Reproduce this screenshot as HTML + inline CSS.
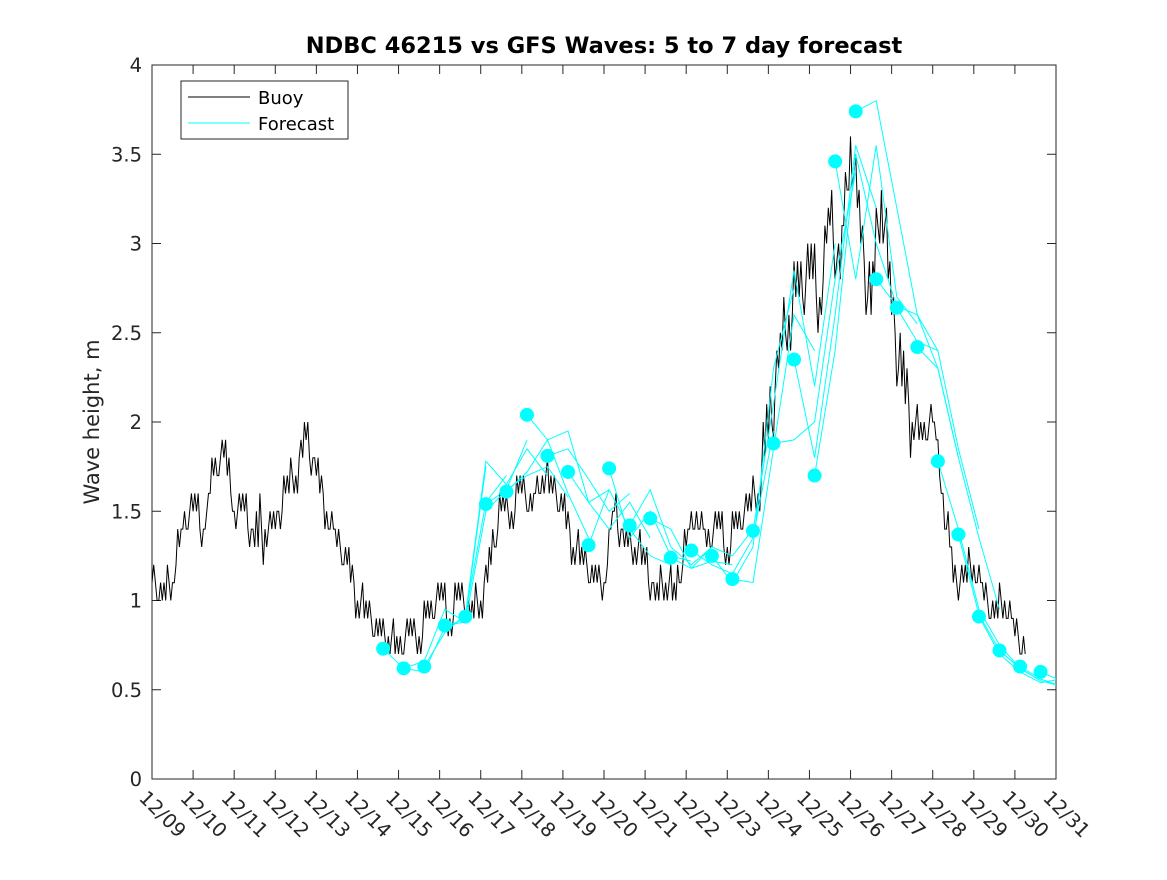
<!DOCTYPE html>
<html><head><meta charset="utf-8"><style>
body{margin:0;background:#fff;}
svg text{font-family:"DejaVu Sans","Liberation Sans",sans-serif;fill:#262626;}
</style></head><body>
<svg id="chart" width="1167" height="875" viewBox="0 0 1167 875" xmlns="http://www.w3.org/2000/svg">
<rect width="1167" height="875" fill="#fff"/>
<defs><clipPath id="pc"><rect x="152" y="65" width="904" height="714"/></clipPath></defs>
<text x="604" y="53" text-anchor="middle" font-size="22.5" font-weight="bold" style="fill:#000">NDBC 46215 vs GFS Waves: 5 to 7 day forecast</text>
<text transform="translate(99,422) rotate(-90)" text-anchor="middle" font-size="21">Wave height, m</text>
<g id="axes"></g>
<g id="buoy" clip-path="url(#pc)"></g>
<g id="fc" clip-path="url(#pc)"></g>
<g>
<rect x="181" y="81" width="167" height="58" fill="#fff" stroke="#262626" stroke-width="1"/>
<line x1="188" y1="97" x2="250" y2="97" stroke="#000" stroke-width="1"/>
<text x="258" y="104" font-size="18" style="fill:#000">Buoy</text>
<line x1="188" y1="123" x2="250" y2="123" stroke="#00ffff" stroke-width="1"/>
<text x="258" y="130" font-size="18" style="fill:#000">Forecast</text>
</g>
</svg>
<script>
const xTickLabels=["12/09","12/10","12/11","12/12","12/13","12/14","12/15","12/16","12/17","12/18","12/19","12/20","12/21","12/22","12/23","12/24","12/25","12/26","12/27","12/28","12/29","12/30","12/31"];
const yTicks=[0,0.5,1,1.5,2,2.5,3,3.5,4];
const yTickLabels=["0","0.5","1","1.5","2","2.5","3","3.5","4"];
// buoy values every 6 hours starting 12/09 00:00
const buoyValues=[1.1,1.0,1.1,1.4, 1.5,1.4,1.7,1.8, 1.5,1.5,1.3,1.4, 1.4,1.6,1.7,1.9, 1.7,1.5,1.3,1.2,
1.0,0.9,0.8,0.8, 0.7,0.8,0.8,0.9, 1.0,0.9,1.0,0.9, 1.0,1.2,1.5,1.5, 1.6,1.5,1.7,1.6, 1.5,1.3,1.2,1.1,
1.1,1.5,1.3,1.3, 1.2,1.0,1.1,1.0, 1.3,1.5,1.3,1.4, 1.3,1.4,1.5,1.6, 1.9,2.3,2.6,2.7, 2.8,2.7,3.1,2.8,
3.6,3.0,2.6,3.3, 2.6,2.2,2.0,1.9, 2.0,1.6,1.1,1.1, 1.2,1.0,0.9,1.0, 0.8,0.7];
const buoyJitter=[0.1,0.1,0.1,0.1,0.1,0.1,0.1,0.1,0.1,0.1,0.2,0.1,0.1,0.1,0.1,0.1,0.1,0.1,0.1,0.1,0.1,0.1,0.1,0.1,0.1,0.1,0.1,0.1,0.1,0.1,0.1,0.1,0.1,0.1,0.1,0.1,0.1,0.1,0.1,0.1,0.1,0.1,0.1,0.1,0.1,0.1,0.1,0.1,0.1,0.1,0.1,0.1,0.1,0.1,0.1,0.1,0.1,0.1,0.1,0.2,0.2,0.2,0.2,0.2,0.2,0.2,0.2,0.2,0.2,0.2,0.2,0.2,0.2,0.2,0.1,0.1,0.1,0.1,0.1,0.1,0.1,0.1,0.1,0.1,0.1,0.1];
const forecastStart=5.625;
const forecastStep=0.5;
const forecastRuns=[
[0.73,0.62,0.66,0.95,0.88],[0.62,0.60,0.85,0.90,1.75],[0.63,0.82,0.92,1.55,1.70],[0.86,0.88,1.50,1.62,1.90],
[0.91,1.78,1.65,1.85,1.70],[1.54,1.62,1.70,1.75,1.58],[1.61,1.72,1.90,1.60,1.35],[2.04,1.90,1.95,1.55,1.62],
[1.81,1.85,1.68,1.50,1.60],[1.72,1.55,1.40,1.55,1.35],[1.31,1.62,1.40,1.25,1.20],[1.74,1.35,1.50,1.25,1.22],
[1.42,1.62,1.30,1.20,1.30],[1.46,1.40,1.18,1.22,1.20],[1.24,1.18,1.30,1.25,1.40],[1.28,1.20,1.15,1.35,1.95],
[1.25,1.10,1.30,2.30,2.75],[1.12,1.10,1.85,2.60,2.40],[1.39,2.10,2.85,2.20,3.00],[1.88,1.90,2.00,2.80,3.40],
[2.35,1.80,2.60,3.55,3.20],[1.70,2.40,3.50,3.00,2.65],[3.46,2.80,3.55,2.70,2.55],[3.74,3.80,3.20,2.60,2.40],
[2.80,2.65,2.60,2.30,1.80],[2.64,2.45,2.40,1.85,1.40],[2.42,2.30,1.80,1.35,0.95],[1.78,1.40,0.95,0.75,0.62],
[1.37,0.92,0.72,0.62,0.55],[0.91,0.70,0.60,0.54,0.56],[0.72,0.62,0.55,0.52,0.60],[0.63,0.56,0.52,0.60,0.70],
[0.60,0.55,0.62,0.70,0.75]];

const X0=152,X1=1056,Y0=779,Y1=65,NDAYS=22,YMAX=4;
const xs=d=>X0+(X1-X0)*d/NDAYS;
const ys=v=>Y0-(Y0-Y1)*v/YMAX;
const NS="http://www.w3.org/2000/svg";
function mk(tag,attrs,parent){const e=document.createElementNS(NS,tag);for(const k in attrs)e.setAttribute(k,attrs[k]);parent.appendChild(e);return e;}

const ax=document.getElementById('axes');
const box=mk('rect',{x:X0,y:Y1,width:X1-X0,height:Y0-Y1,fill:'none',stroke:'#262626','stroke-width':1},ax);


xTickLabels.forEach((lab,i)=>{
  const x=xs(i);
  mk('line',{x1:x,y1:Y0,x2:x,y2:Y0-9,stroke:'#262626'},ax);
  mk('line',{x1:x,y1:Y1,x2:x,y2:Y1+9,stroke:'#262626'},ax);
  const t=mk('text',{transform:`translate(${x-14},${Y0+20}) rotate(45)`,'font-size':19.5},ax);
  
  
  t.textContent=lab;
});
yTicks.forEach((v,i)=>{
  const y=ys(v);
  mk('line',{x1:X0,y1:y,x2:X0+9,y2:y,stroke:'#262626'},ax);
  mk('line',{x1:X1,y1:y,x2:X1-9,y2:y,stroke:'#262626'},ax);
  const t=mk('text',{x:X0-10,y:y+7,'text-anchor':'end','font-size':19.5},ax);
  
  
  t.textContent=yTickLabels[i];
});

const bg=document.getElementById('buoy');
let pts=[];
buoyValues.forEach((v,i)=>{
  const j=buoyJitter[i]||0;
  for(let h=0;h<6;h++){
    const d=(i*6+h)/24;
    const next=i+1<buoyValues.length?buoyValues[i+1]:v;
    let val=v+(next-v)*h/6;
    val=Math.round(val*10)/10;
    if(h%2===1)val+=j*((i+h)%3===0?-1:1);
    pts.push(xs(d).toFixed(1)+','+ys(val).toFixed(1));
    if(i===buoyValues.length-1)break;
  }
});
const bl=mk('polyline',{points:pts.join(' '),fill:'none',stroke:'#000','stroke-width':1},bg);



const fg=document.getElementById('fc');
forecastRuns.forEach((run,k)=>{
  const t0=forecastStart+k*forecastStep;
  const p=run.map((v,i)=>xs(t0+i*forecastStep).toFixed(1)+','+ys(v).toFixed(1)).join(' ');
  const l=mk('polyline',{points:p,fill:'none',stroke:'#00ffff','stroke-width':1},fg);
  
  
});
forecastRuns.forEach((run,k)=>{
  const t0=forecastStart+k*forecastStep;
  const c=mk('circle',{cx:xs(t0),cy:ys(run[0]),r:7,fill:'#00ffff'},fg);
  
  
});
</script>
</body></html>
